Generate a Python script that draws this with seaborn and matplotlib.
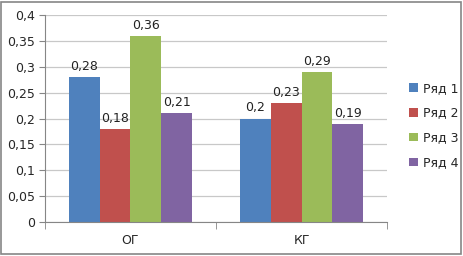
import pandas as pd
import numpy as np
import matplotlib
matplotlib.use('Agg')
import matplotlib.pyplot as plt
import seaborn as sns
from matplotlib.ticker import FuncFormatter, MultipleLocator
from matplotlib.patches import Rectangle

categories = ['ОГ', 'КГ']
series = ['Ряд 1', 'Ряд 2', 'Ряд 3', 'Ряд 4']
values_og = [0.28, 0.18, 0.36, 0.21]
values_kg = [0.2, 0.23, 0.29, 0.19]
colors = ['#4F81BD', '#C0504D', '#9BBB59', '#8064A2']

df = pd.DataFrame({
    'group': [categories[0]] * 4 + [categories[1]] * 4,
    'series': series + series,
    'value': values_og + values_kg,
})

sns.set_style('white')
plt.rcParams['font.family'] = ['DejaVu Sans']

fig = plt.figure(figsize=(4.63, 2.56), dpi=100)
ax = fig.add_axes([0.097, 0.133, 0.739, 0.808])

sns.barplot(data=df, x='group', y='value', hue='series', palette=colors,
            width=0.72, gap=0, saturation=1, ax=ax, linewidth=0)

comma = lambda v: f'{v:g}'.replace('.', ',')
for cont in ax.containers:
    ax.bar_label(cont, labels=[comma(v) for v in cont.datavalues], padding=3, fontsize=9, color='#222222')

ax.set_ylim(0, 0.4)
ax.set_xlim(-0.5, 1.5)
ax.yaxis.set_major_locator(MultipleLocator(0.05))
ax.yaxis.set_major_formatter(FuncFormatter(lambda v, p: comma(round(v, 2))))
ax.grid(axis='y', color='#C8C8C8', linewidth=0.9)
ax.set_axisbelow(True)
ax.set_xlabel('')
ax.set_ylabel('')
for s in ['top', 'right']:
    ax.spines[s].set_visible(False)
for s in ['left', 'bottom']:
    ax.spines[s].set_color('#868686')
    ax.spines[s].set_linewidth(0.8)
ax.tick_params(axis='y', length=4, color='#868686', labelsize=9, pad=3, left=True)
ax.tick_params(axis='x', length=0, labelsize=9, pad=9)
ax.set_xticks([-0.5, 0.5, 1.5], minor=True)
ax.tick_params(axis='x', which='minor', length=5, color='#868686', bottom=True)

ax.legend(loc='center left', bbox_to_anchor=(0.86, 0.51), bbox_transform=fig.transFigure,
          frameon=False, fontsize=9, handlelength=0.7, handleheight=0.7,
          handletextpad=0.4, labelspacing=0.95)

fig.patches.append(Rectangle((0.003, 0.006), 0.992, 0.988, transform=fig.transFigure,
                             fill=False, edgecolor='#868686', linewidth=1.2))

fig.savefig('out.png', dpi=100)
